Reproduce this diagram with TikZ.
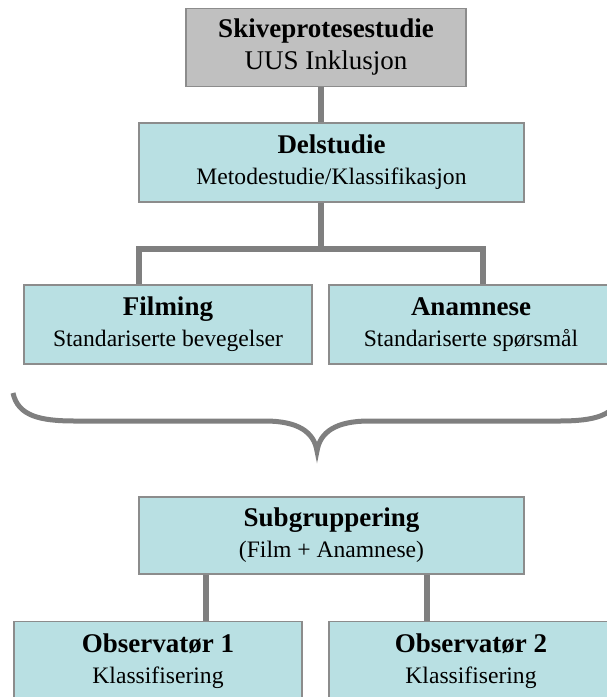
\documentclass[tikz,border=0pt]{standalone}
\usepackage{fontspec}
\setmainfont{Liberation Serif}
\definecolor{boxcyan}{HTML}{B9E0E3}
\definecolor{boxgrey}{HTML}{C0C0C0}
\definecolor{edgegrey}{HTML}{8C8C8C}
\definecolor{linkgrey}{HTML}{7F7F7F}
\newcommand{\ttl}[1]{{\fontsize{27}{32}\selectfont\bfseries #1}}
\tikzset{
	box/.style={draw=edgegrey, line width=1.5pt, fill=boxcyan, align=center, inner sep=0pt,
		font=\fontsize{23.6}{31}\selectfont},
	topbox/.style={box, fill=boxgrey, font=\fontsize{27}{32}\selectfont},
	link/.style={draw=linkgrey, line width=6pt}
}
\begin{document}
\begin{tikzpicture}[x=1pt, y=-1pt]
		\clip (0, 0) rectangle (607, 697);

		\node[topbox, minimum width=280pt, minimum height=78pt]	(sk) at (326, 47.5) {\ttl{Skiveprotesestudie}\\UUS Inklusjon};
		\node[box, minimum width=385pt, minimum height=79pt]	(del) at (331.5, 162.5) {\ttl{Delstudie}\\Metodestudie/Klassifikasjon};
		\node[box, minimum width=288pt, minimum height=79pt]	(film) at (168, 324.5) {\ttl{Filming}\\Standariserte bevegelser};
		\node[box, minimum width=284pt, minimum height=79pt]	(anam) at (471, 324.5) {\ttl{Anamnese}\\Standariserte spørsmål};
		\node[box, minimum width=385pt, minimum height=77pt]	(sub) at (331.5, 535.5) {\ttl{Subgruppering}\\(Film + Anamnese)};
		\node[box, minimum width=288pt, minimum height=79pt]	(obsa) at (158, 661) {\ttl{Observatør 1}\\Klassifisering};
		\node[box, minimum width=284pt, minimum height=79pt]	(obsb) at (471, 661) {\ttl{Observatør 2}\\Klassifisering};

		\coordinate (fork) at (321, 249);

		\draw[link]	(sk.south -| fork) -- (del.north -| fork);
		\draw[link]	(del.south -| fork) -- (fork);
		\draw[link]	([xshift=-29pt]film.north) |- (fork) -| ([xshift=12pt]anam.north);
		\draw[link]	([xshift=48pt]obsa.north) -- ([xshift=48pt]obsa.north |- sub.south);
		\draw[link]	([xshift=-44pt]obsb.north) -- ([xshift=-44pt]obsb.north |- sub.south);

		% brace under the two boxes
		\draw[linkgrey, line width=5pt]	(13, 393) .. controls (18, 416) and (40, 421) .. (75, 421)
						-- (265, 421) .. controls (298, 421) and (314, 432) .. (317, 451)
						.. controls (320, 432) and (336, 421) .. (369, 421)
						-- (559, 421) .. controls (594, 421) and (616, 416) .. (621, 393);
	\end{tikzpicture}
\end{document}
